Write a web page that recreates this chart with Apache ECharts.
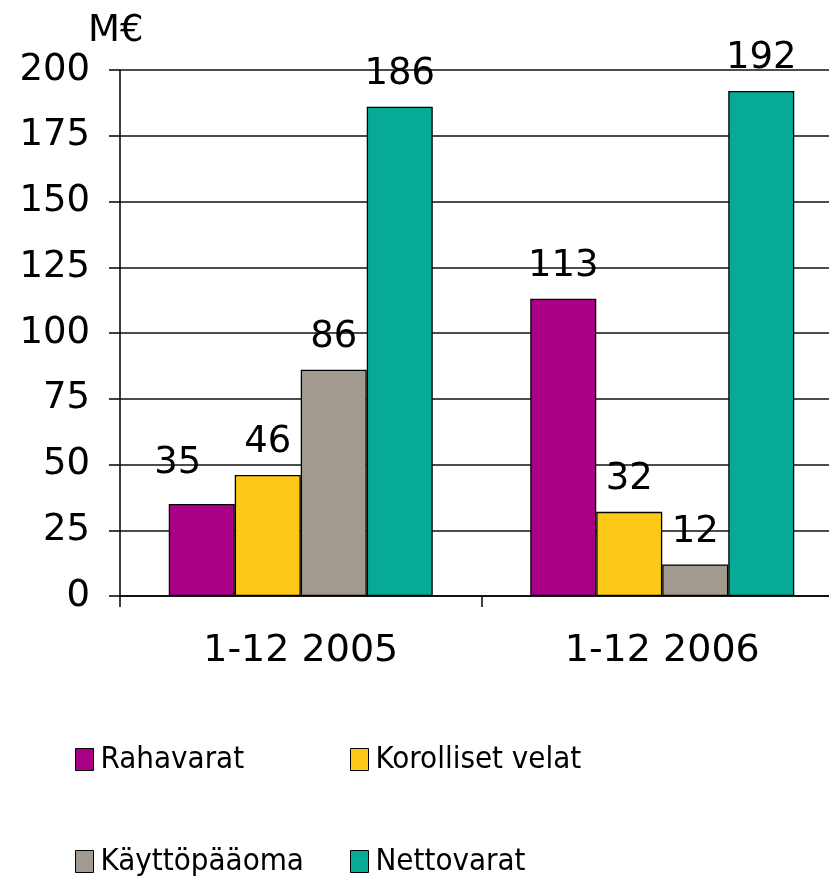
<!DOCTYPE html>
<html>
<head>
<meta charset="utf-8">
<script src="https://cdn.jsdelivr.net/npm/echarts@6/dist/echarts.min.js"></script>
<style>
html,body{margin:0;padding:0;background:#fff;overflow:hidden;width:829px;height:877px;}
#chart{width:860px;height:877px;}
</style>
</head>
<body>
<div id="chart"></div>
<script>
const categories = ['1-12 2005', '1-12 2006'];
const seriesNames = ['Rahavarat', 'Korolliset velat', 'Käyttöpääoma', 'Nettovarat'];
const rahavarat = [35, 113];
const korollisetVelat = [46, 32];
const kayttopaaoma = [86, 12];
const nettovarat = [186, 192];
const yTicks = [0, 25, 50, 75, 100, 125, 150, 175, 200];
const unitLabel = 'M€';

const colors = ['#AA0088', '#FCC918', '#A39A8F', '#06AA96'];
const values = [rahavarat, korollisetVelat, kayttopaaoma, nettovarat];
const numFont = 'DejaVu Sans';
const legFont = "'DejaVu Sans Condensed', 'Liberation Sans', sans-serif";

const chart = echarts.init(document.getElementById('chart'));

const series = seriesNames.map((name, si) => ({
  name: name,
  type: 'bar',
  barWidth: 66,
  barGap: '0%',
  data: values[si].map((v, ci) => {
    const item = { value: v };
    if (si === 0 && ci === 0) item.label = { offset: [-24, -8] };
    return item;
  }),
  itemStyle: { color: colors[si], borderColor: '#000', borderWidth: 1.3 },
  label: {
    show: true,
    position: 'top',
    distance: 14,
    color: '#000',
    fontFamily: numFont,
    fontSize: 37
  }
}));

const legendPos = [
  { left: 70, top: 739 },
  { left: 345, top: 739 },
  { left: 70, top: 841 },
  { left: 345, top: 841 }
];
const legends = seriesNames.map((n, i) => ({
  data: [n],
  left: legendPos[i].left,
  top: legendPos[i].top,
  orient: 'horizontal',
  icon: 'rect',
  itemWidth: 18,
  itemHeight: 22,
  itemGap: 0,
  selectedMode: false,
  itemStyle: { borderColor: '#000', borderWidth: 1 },
  textStyle: { fontFamily: legFont, fontSize: 31, color: '#000', padding: [0, 0, 0, 2] }
}));

chart.setOption({
  animation: false,
  backgroundColor: '#fff',
  title: {
    text: unitLabel,
    left: 83,
    top: 8,
    textStyle: { fontFamily: numFont, fontSize: 37, fontWeight: 'normal', color: '#000' }
  },
  legend: legends,
  grid: { left: 120, top: 70, right: 17, bottom: 281, containLabel: false },
  xAxis: {
    type: 'category',
    data: categories,
    axisLine: { lineStyle: { color: '#000', width: 1.5 } },
    axisTick: { show: true, length: 11, lineStyle: { color: '#000', width: 1.5 } },
    axisLabel: { color: '#000', fontFamily: numFont, fontSize: 38, margin: 36 }
  },
  yAxis: {
    type: 'value',
    min: yTicks[0],
    max: yTicks[yTicks.length - 1],
    interval: yTicks[1] - yTicks[0],
    axisLine: { show: true, lineStyle: { color: '#000', width: 1.5 } },
    axisTick: { show: true, length: 11, lineStyle: { color: '#000', width: 1.5 } },
    splitLine: { show: true, lineStyle: { color: '#111', width: 1.5 } },
    axisLabel: { color: '#000', fontFamily: numFont, fontSize: 37, margin: 30 }
  },
  series: series
});
</script>
</body>
</html>
